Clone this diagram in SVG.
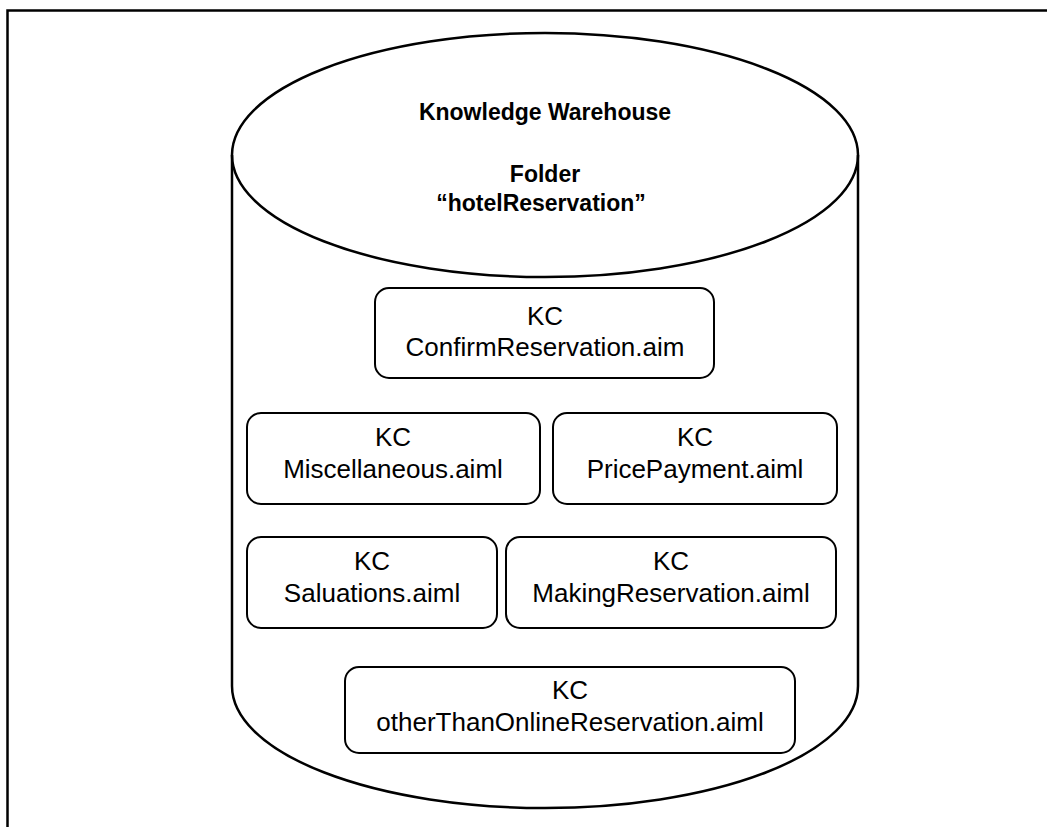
<svg xmlns="http://www.w3.org/2000/svg" width="1047" height="827" viewBox="0 0 1047 827">
<style>
.frame{fill:none;stroke:#000;stroke-width:2.5}
.cyl{fill:none;stroke:#000;stroke-width:2.5}
.box{fill:#fff;stroke:#000;stroke-width:2}
.t{font-family:"Liberation Sans",Arial,sans-serif;font-size:26px;fill:#000;text-anchor:middle}
.b{font-family:"Liberation Sans",Arial,sans-serif;font-size:23px;font-weight:bold;fill:#000;text-anchor:middle}
</style>
<rect width="1047" height="827" fill="#fff"/>
<g id="frame">
<path class="frame" d="M7.5,827 V10.5 H1047"/>
</g>
<g id="warehouse">
<path class="cyl" d="M232,155 V686 A313,122 0 0 0 858,686 V155"/>
<ellipse class="cyl" cx="545" cy="155" rx="313" ry="122" fill="#fff"/>
<text class="b" x="545" y="120">Knowledge Warehouse</text>
<text class="b" x="545" y="182">Folder</text>
<text class="b" x="541" y="211">“hotelReservation”</text>
</g>
<g id="kc-confirm">
<rect class="box" x="375" y="288" width="339" height="90" rx="14"/>
<text class="t" x="545" y="325">KC</text>
<text class="t" x="545" y="356">ConfirmReservation.aim</text>
</g>
<g id="kc-misc">
<rect class="box" x="247" y="413" width="293" height="91" rx="14"/>
<text class="t" x="393" y="446">KC</text>
<text class="t" x="393" y="478">Miscellaneous.aiml</text>
</g>
<g id="kc-price">
<rect class="box" x="553" y="413" width="284" height="91" rx="14"/>
<text class="t" x="695" y="446">KC</text>
<text class="t" x="695" y="478">PricePayment.aiml</text>
</g>
<g id="kc-saluations">
<rect class="box" x="247" y="537" width="250" height="91" rx="14"/>
<text class="t" x="372" y="570">KC</text>
<text class="t" x="372" y="602">Saluations.aiml</text>
</g>
<g id="kc-making">
<rect class="box" x="506" y="537" width="330" height="91" rx="14"/>
<text class="t" x="671" y="570">KC</text>
<text class="t" x="671" y="602">MakingReservation.aiml</text>
</g>
<g id="kc-other">
<rect class="box" x="345" y="667" width="450" height="86" rx="14"/>
<text class="t" x="570" y="699">KC</text>
<text class="t" x="570" y="731">otherThanOnlineReservation.aiml</text>
</g>
<g id="connectors"></g>
</svg>
